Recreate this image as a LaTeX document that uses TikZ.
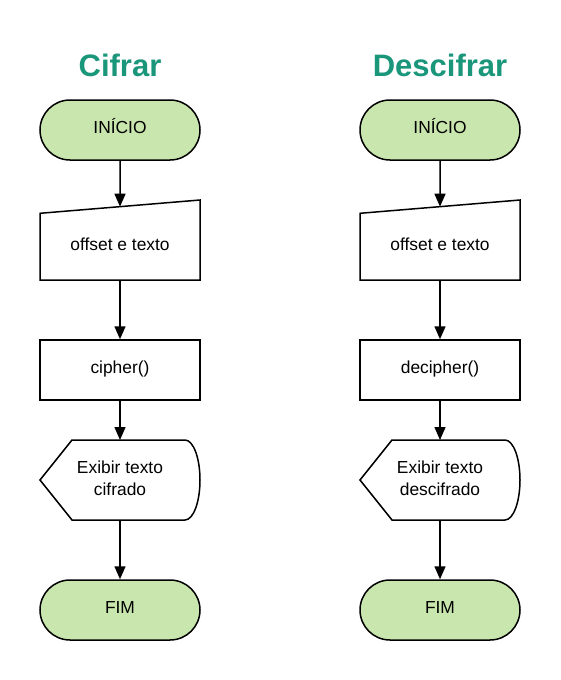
\documentclass[tikz,border=0pt]{standalone}
\usepackage{fontspec}
\setmainfont{Liberation Sans}
\usetikzlibrary{shapes.misc,arrows.meta}
\definecolor{ttl}{RGB}{26,150,122}
\definecolor{grn}{RGB}{200,230,173}
\tikzset{
 txt/.style={font=\fontsize{17.4}{22}\selectfont},
 term/.style={rounded rectangle, draw, fill=grn, line width=1.5pt, minimum width=160pt, minimum height=60pt, inner sep=0pt, text height=10pt, text depth=3.5pt, txt},
 proc/.style={rectangle, draw, line width=1.5pt, minimum width=160pt, minimum height=60pt, inner sep=0pt, text height=10pt, text depth=3.5pt, txt},
 lbl/.style={txt, align=center, inner sep=0pt},
 ttlstyle/.style={font=\fontsize{31}{36}\selectfont\bfseries, text=ttl},
 shp/.style={draw, line width=1.5pt, line join=miter},
 conn/.style={line width=1.5pt, -{Triangle[length=13pt,width=11pt]}}
}
\newcommand\flowcolumn[5]{%
 \begin{scope}[shift={(#1,0)}]
  \node[ttlstyle] (#2title) at (0,65) {#3};
  \node[term] (#2start) at (0,130) {INÍCIO};
  \draw[shp] (-80,213.3) -- (80,200) -- (80,280) -- (-80,280) -- cycle;
  \coordinate (#2intop) at (0,206.7);
  \coordinate (#2inbot) at (0,280);
  \node[lbl] (#2in) at (0,244) {offset e texto};
  \node[proc] (#2proc) at (0,370) {#4};
  \draw[shp] (-48,440) -- (65,440) arc[start angle=-90,end angle=90,x radius=15,y radius=40] -- (-48,520) -- (-80,480) -- cycle;
  \coordinate (#2disptop) at (0,440);
  \coordinate (#2dispbot) at (0,520);
  \node[lbl] (#2disp) at (0,478) {Exibir texto\\#5};
  \node[term] (#2end) at (0,610) {FIM};
  \draw[conn] (#2start) -- (#2intop);
  \draw[conn] (#2inbot) -- (#2proc);
  \draw[conn] (#2proc) -- (#2disptop);
  \draw[conn] (#2dispbot) -- (#2end);
 \end{scope}}
\begin{document}
\begin{tikzpicture}[x=1pt,y=-1pt]
\useasboundingbox (0,0) rectangle (560,680);
\fill[white] (0,0) rectangle (560,680);
\flowcolumn{120}{a}{Cifrar}{cipher()}{cifrado}
\flowcolumn{440}{b}{Descifrar}{decipher()}{descifrado}
\end{tikzpicture}
\end{document}
